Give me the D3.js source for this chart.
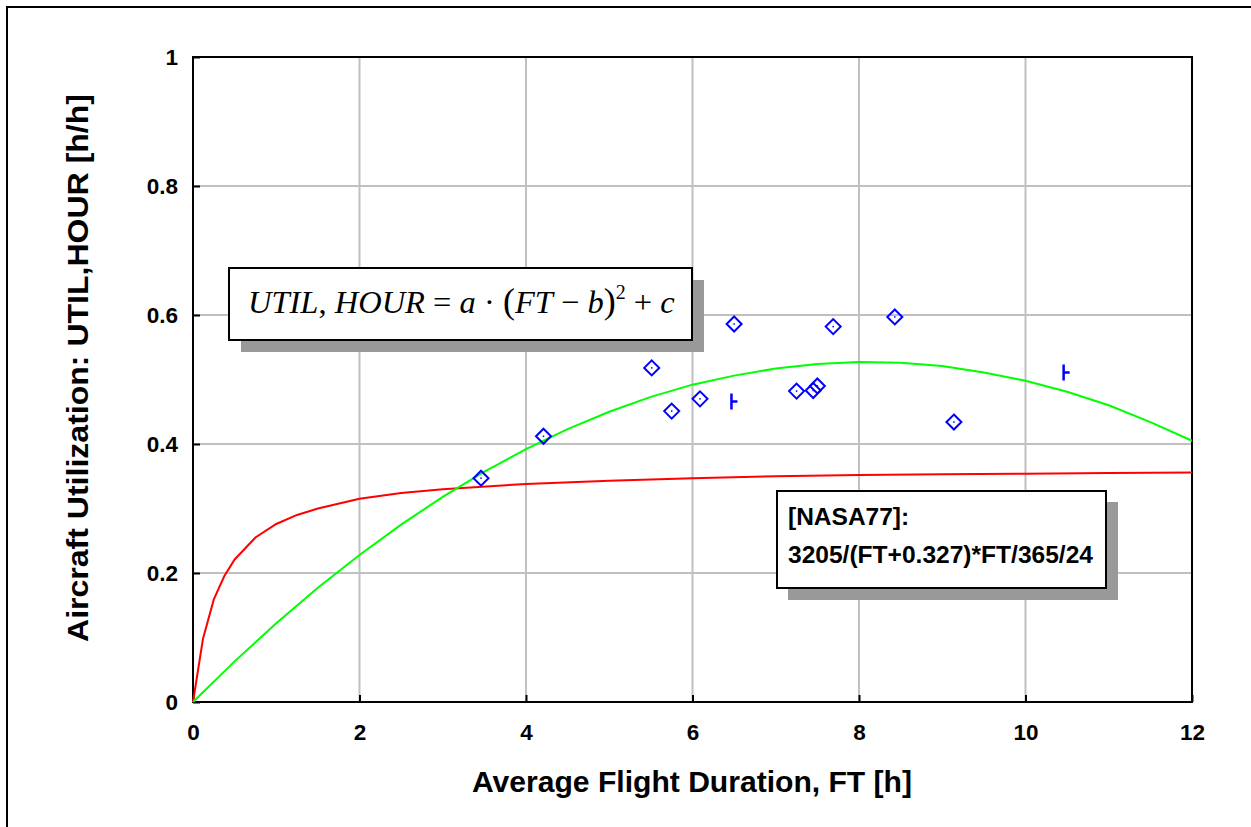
<!DOCTYPE html>
<html><head><meta charset="utf-8">
<script src="https://cdn.jsdelivr.net/npm/d3@7"></script>
<style>body{margin:0;background:#fff}svg{display:block}</style>
</head><body>
<svg id="c" width="1251" height="827"></svg>
<script>
// ---- data ----
const xTicks = [0, 2, 4, 6, 8, 10, 12];
const yTicks = [0, 0.2, 0.4, 0.6, 0.8, 1];
const yTickLabels = ["0", "0.2", "0.4", "0.6", "0.8", "1"];

// observed aircraft (diamonds)
const obsFT   = [3.46, 4.21, 5.51, 5.75, 6.09, 6.50, 7.25, 7.45, 7.50, 7.69, 8.43, 9.14];
const obsUtil = [0.347, 0.412, 0.518, 0.451, 0.470, 0.586, 0.482, 0.483, 0.490, 0.582, 0.597, 0.434];
// second marker type
const obs2FT   = [6.48, 10.47];
const obs2Util = [0.466, 0.511];

// fitted parabola (green)
const fitFT   = [0, 0.5, 1, 1.5, 2, 2.5, 3, 3.5, 4, 4.5, 5, 5.5, 6, 6.5, 7, 7.5, 8, 8.5, 9, 9.5, 10, 10.5, 11, 11.5, 12];
const fitUtil = [0, 0.063, 0.122, 0.177, 0.228, 0.275, 0.318, 0.357, 0.392, 0.423, 0.450, 0.473, 0.492, 0.506, 0.517, 0.524, 0.527, 0.526, 0.521, 0.511, 0.498, 0.481, 0.460, 0.434, 0.405];

// NASA77 curve (red)
const nasaFT   = [0, 0.12, 0.25, 0.375, 0.5, 0.75, 1, 1.25, 1.5, 2, 2.5, 3, 4, 5, 6, 7, 8, 9, 10, 11, 12];
const nasaUtil = [0, 0.098, 0.159, 0.195, 0.221, 0.255, 0.276, 0.290, 0.300, 0.315, 0.324, 0.330, 0.338, 0.343, 0.347, 0.350, 0.352, 0.353, 0.354, 0.355, 0.356];

const xTitle = "Average Flight Duration, FT [h]";
const yTitle = "Aircraft Utilization: UTIL,HOUR [h/h]";
const note1 = "[NASA77]:";
const note2 = "3205/(FT+0.327)*FT/365/24";

// ---- drawing ----
const svg = d3.select("#c");
const L = 193, R = 1192, T = 57, B = 702;
const x = d3.scaleLinear().domain([0, 12]).range([L, R]);
const y = d3.scaleLinear().domain([0, 1]).range([B, T]);
const F = "Arial, 'Liberation Sans', Helvetica, sans-serif";

// outer frame
svg.append("rect").attr("x", 7).attr("y", 7).attr("width", 1300).attr("height", 900)
  .attr("fill", "none").attr("stroke", "#000").attr("stroke-width", 2);

// grid
svg.append("g").selectAll("line").data(xTicks.filter(d => d > 0 && d < 12)).join("line")
  .attr("x1", d => x(d)).attr("x2", d => x(d)).attr("y1", T).attr("y2", B)
  .attr("stroke", "#c0c0c0").attr("stroke-width", 2);
svg.append("g").selectAll("line").data(yTicks.filter(d => d > 0 && d < 1)).join("line")
  .attr("y1", d => y(d)).attr("y2", d => y(d)).attr("x1", L).attr("x2", R)
  .attr("stroke", "#c0c0c0").attr("stroke-width", 2);

// axes via d3 (inward ticks)
const xAxis = svg.append("g").attr("transform", `translate(0,${B})`)
  .call(d3.axisBottom(x).tickValues(xTicks).tickSize(-7).tickPadding(22).tickFormat(d3.format("d")));
const yAxis = svg.append("g").attr("transform", `translate(${L},0)`)
  .call(d3.axisLeft(y).tickValues(yTicks).tickSize(-7).tickPadding(15).tickFormat((d, i) => yTickLabels[i]));
[xAxis, yAxis].forEach(g => {
  g.select(".domain").remove();
  g.selectAll(".tick line").attr("stroke", "#000").attr("stroke-width", 2);
  g.selectAll(".tick text").attr("font-family", F).attr("font-weight", "bold")
    .attr("font-size", 22.5).attr("fill", "#000");
});
// plot frame
svg.append("rect").attr("x", L).attr("y", T).attr("width", R - L).attr("height", B - T)
  .attr("fill", "none").attr("stroke", "#000").attr("stroke-width", 2);

// curves
const line = d3.line().x(d => x(d[0])).y(d => y(d[1]));
svg.append("path").datum(nasaFT.map((v, i) => [v, nasaUtil[i]])).attr("d", line)
  .attr("fill", "none").attr("stroke", "#ff0000").attr("stroke-width", 2);
svg.append("path").datum(fitFT.map((v, i) => [v, fitUtil[i]])).attr("d", line)
  .attr("fill", "none").attr("stroke", "#00ff00").attr("stroke-width", 2);

// diamonds
const gm = svg.append("g").selectAll("g").data(obsFT.map((v, i) => [v, obsUtil[i]])).join("g")
  .attr("transform", d => `translate(${x(d[0])},${y(d[1])})`);
gm.append("path").attr("d", "M0,-7.5L7.5,0L0,7.5L-7.5,0Z")
  .attr("fill", "none").attr("stroke", "#0000ff").attr("stroke-width", 2);
gm.append("rect").attr("x", -0.75).attr("y", -0.75).attr("width", 1.5).attr("height", 1.5).attr("fill", "#0000ff");

// second markers
const g2 = svg.append("g").selectAll("g").data(obs2FT.map((v, i) => [v, obs2Util[i]])).join("g")
  .attr("transform", d => `translate(${x(d[0])},${y(d[1])})`);
g2.append("path").attr("d", "M-1,-8V8M-1,0H5")
  .attr("fill", "none").attr("stroke", "#0000ff").attr("stroke-width", 2.5);

// equation box
svg.append("rect").attr("x", 241).attr("y", 280).attr("width", 463).attr("height", 72).attr("fill", "#999");
svg.append("rect").attr("x", 229).attr("y", 268).attr("width", 463).attr("height", 72)
  .attr("fill", "#fff").attr("stroke", "#000").attr("stroke-width", 2);
const eq = svg.append("text").attr("x", 248).attr("y", 313)
  .attr("font-family", "'Times New Roman', 'Liberation Serif', serif").attr("font-size", 32.5).attr("fill", "#000");
const parts = [
  ["UTIL", "italic"], [", ", "normal"], ["HOUR", "italic"], [" = ", "normal"], ["a", "italic"],
  [" \u00B7 ", "normal"], ["(", "paren"], ["FT", "italic"], [" \u2212 ", "normal"], ["b", "italic"],
  [")", "paren"], ["2", "sup"], [" + ", "normal"], ["c", "italic"]
];
parts.forEach(p => {
  const t = eq.append("tspan").text(p[0]);
  if (p[1] === "italic") t.attr("font-style", "italic");
  if (p[1] === "paren") t.attr("font-size", 36);
  if (p[1] === "sup") { t.attr("font-size", 20).attr("dy", -14); }
  if (p[0] === " + ") t.attr("dy", 14);
});

// NASA box
svg.append("rect").attr("x", 788).attr("y", 502).attr("width", 330).attr("height", 98).attr("fill", "#999");
svg.append("rect").attr("x", 777).attr("y", 491).attr("width", 329).attr("height", 97)
  .attr("fill", "#fff").attr("stroke", "#000").attr("stroke-width", 2);
svg.append("text").attr("x", 788).attr("y", 525).text(note1)
  .attr("font-family", F).attr("font-weight", "bold").attr("font-size", 24.5);
svg.append("text").attr("x", 788).attr("y", 563).text(note2)
  .attr("font-family", F).attr("font-weight", "bold").attr("font-size", 24.5)
  .attr("textLength", 305).attr("lengthAdjust", "spacingAndGlyphs");

// titles
svg.append("text").attr("x", 692).attr("y", 792).attr("text-anchor", "middle").text(xTitle)
  .attr("font-family", F).attr("font-weight", "bold").attr("font-size", 30)
  .attr("textLength", 440).attr("lengthAdjust", "spacingAndGlyphs");
svg.append("text").attr("transform", "translate(88,368) rotate(-90)").attr("text-anchor", "middle").text(yTitle)
  .attr("font-family", F).attr("font-weight", "bold").attr("font-size", 30)
  .attr("textLength", 548).attr("lengthAdjust", "spacingAndGlyphs");
</script>
</body></html>
